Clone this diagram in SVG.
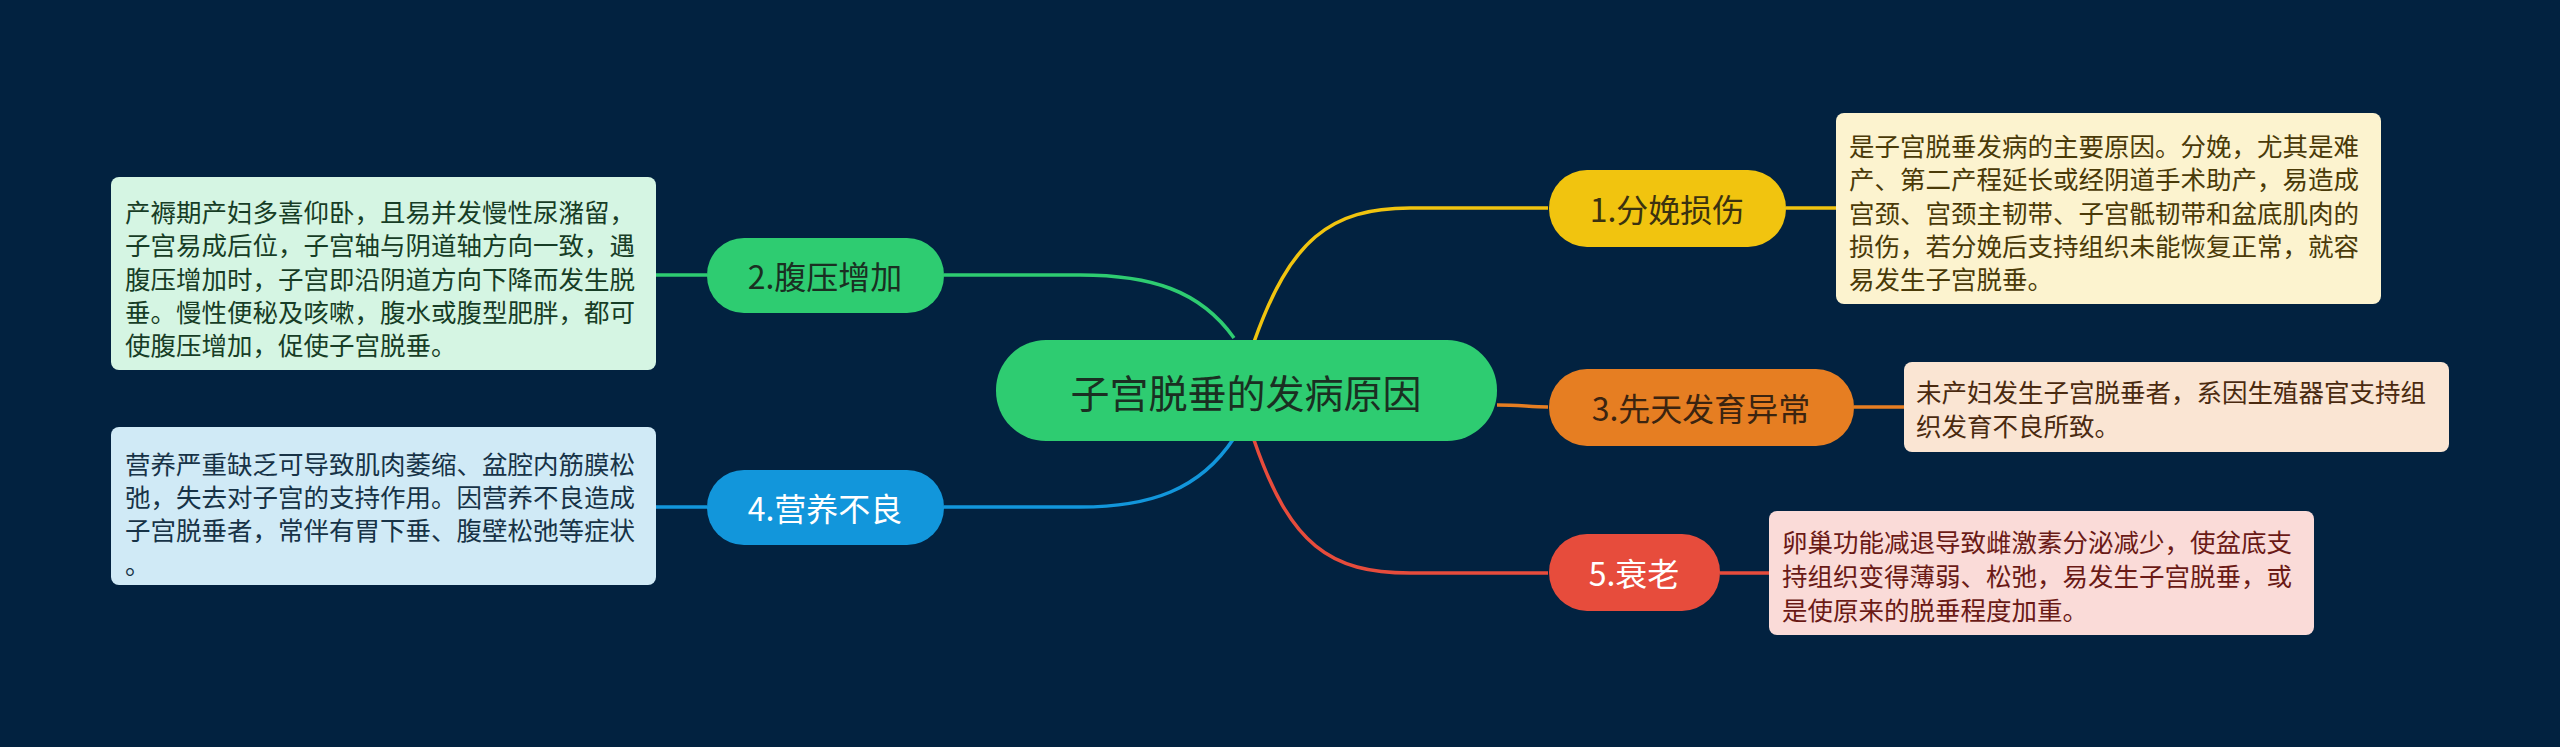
<svg xmlns="http://www.w3.org/2000/svg" width="2560" height="747" viewBox="0 0 2560 747">
<style>
text{font-family:"Noto Sans CJK SC","Noto Sans",sans-serif;dominant-baseline:central}
.c{fill:none;stroke-width:3.5}
.t{font-size:25.5px}
.n{font-size:32px;text-anchor:middle}
</style>
<rect width="2560" height="747" fill="#022240"/>
<g id="connectors">
<path class="c" stroke="#f1c40f" d="M1254,342 C1290,240 1330,208 1410,208 L1548,208 M1786,208 L1836,208"/>
<path class="c" stroke="#e67e22" d="M1497,405 C1520,405 1530,407 1548,407 M1854,407 L1904,407"/>
<path class="c" stroke="#e74c3c" d="M1254,440 C1290,545 1330,573 1410,573 L1548,573 M1720,573 L1769,573"/>
<path class="c" stroke="#2ecc71" d="M1234,338 C1200,290 1150,275 1080,275 L944,275 M707,275 L656,275"/>
<path class="c" stroke="#1296db" d="M1234,438 C1200,490 1150,507 1080,507 L944,507 M707,507 L656,507"/>
</g>
<g id="center"><rect x="996" y="340" width="501" height="101" rx="50" fill="#2ecc71"/><text x="1246" y="391" style="font-size:39px;text-anchor:middle" fill="#1a2f22">子宫脱垂的发病原因</text></g>
<g id="n1"><rect x="1549" y="170" width="237" height="77" rx="38" fill="#f1c40f"/><text class="n" x="1667" y="208" fill="#3b3210">1.分娩损伤</text></g>
<g id="n3"><rect x="1549" y="369" width="305" height="77" rx="38" fill="#e67e22"/><text class="n" x="1701" y="407" fill="#3b2410">3.先天发育异常</text></g>
<g id="n5"><rect x="1549" y="534" width="171" height="77" rx="38" fill="#e74c3c"/><text class="n" x="1634" y="572" fill="#ffffff">5.衰老</text></g>
<g id="n2"><rect x="707" y="238" width="237" height="75" rx="37" fill="#2ecc71"/><text class="n" x="825" y="275" fill="#1a2f22">2.腹压增加</text></g>
<g id="n4"><rect x="707" y="470" width="237" height="75" rx="37" fill="#1296db"/><text class="n" x="825" y="507" fill="#ffffff">4.营养不良</text></g>
<g id="b1"><rect x="1836" y="113" width="545" height="191" rx="8" fill="#fcf3cf"/>
<text class="t" x="1849" fill="#4a3a08"><tspan y="144">是子宫脱垂发病的主要原因。分娩，尤其是难</tspan><tspan x="1849" y="177">产、第二产程延长或经阴道手术助产，易造成</tspan><tspan x="1849" y="211">宫颈、宫颈主韧带、子宫骶韧带和盆底肌肉的</tspan><tspan x="1849" y="244">损伤，若分娩后支持组织未能恢复正常，就容</tspan><tspan x="1849" y="277">易发生子宫脱垂。</tspan></text></g>
<g id="b3"><rect x="1904" y="362" width="545" height="90" rx="8" fill="#fae5d3"/>
<text class="t" x="1916" fill="#4a2a10"><tspan y="390">未产妇发生子宫脱垂者，系因生殖器官支持组</tspan><tspan x="1916" y="424">织发育不良所致。</tspan></text></g>
<g id="b5"><rect x="1769" y="511" width="545" height="124" rx="8" fill="#fadbd8"/>
<text class="t" x="1782" fill="#6a1a16"><tspan y="540">卵巢功能减退导致雌激素分泌减少，使盆底支</tspan><tspan x="1782" y="574">持组织变得薄弱、松弛，易发生子宫脱垂，或</tspan><tspan x="1782" y="608">是使原来的脱垂程度加重。</tspan></text></g>
<g id="b2"><rect x="111" y="177" width="545" height="193" rx="8" fill="#d5f5e3"/>
<text class="t" x="125" fill="#173d26"><tspan y="210">产褥期产妇多喜仰卧，且易并发慢性尿潴留，</tspan><tspan x="125" y="243">子宫易成后位，子宫轴与阴道轴方向一致，遇</tspan><tspan x="125" y="277">腹压增加时，子宫即沿阴道方向下降而发生脱</tspan><tspan x="125" y="310">垂。慢性便秘及咳嗽，腹水或腹型肥胖，都可</tspan><tspan x="125" y="343">使腹压增加，促使子宫脱垂。</tspan></text></g>
<g id="b4"><rect x="111" y="427" width="545" height="158" rx="8" fill="#d0eaf6"/>
<text class="t" x="125" fill="#173347"><tspan y="462">营养严重缺乏可导致肌肉萎缩、盆腔内筋膜松</tspan><tspan x="125" y="495">弛，失去对子宫的支持作用。因营养不良造成</tspan><tspan x="125" y="528">子宫脱垂者，常伴有胃下垂、腹壁松弛等症状</tspan><tspan x="125" y="562">。</tspan></text></g>
</svg>
